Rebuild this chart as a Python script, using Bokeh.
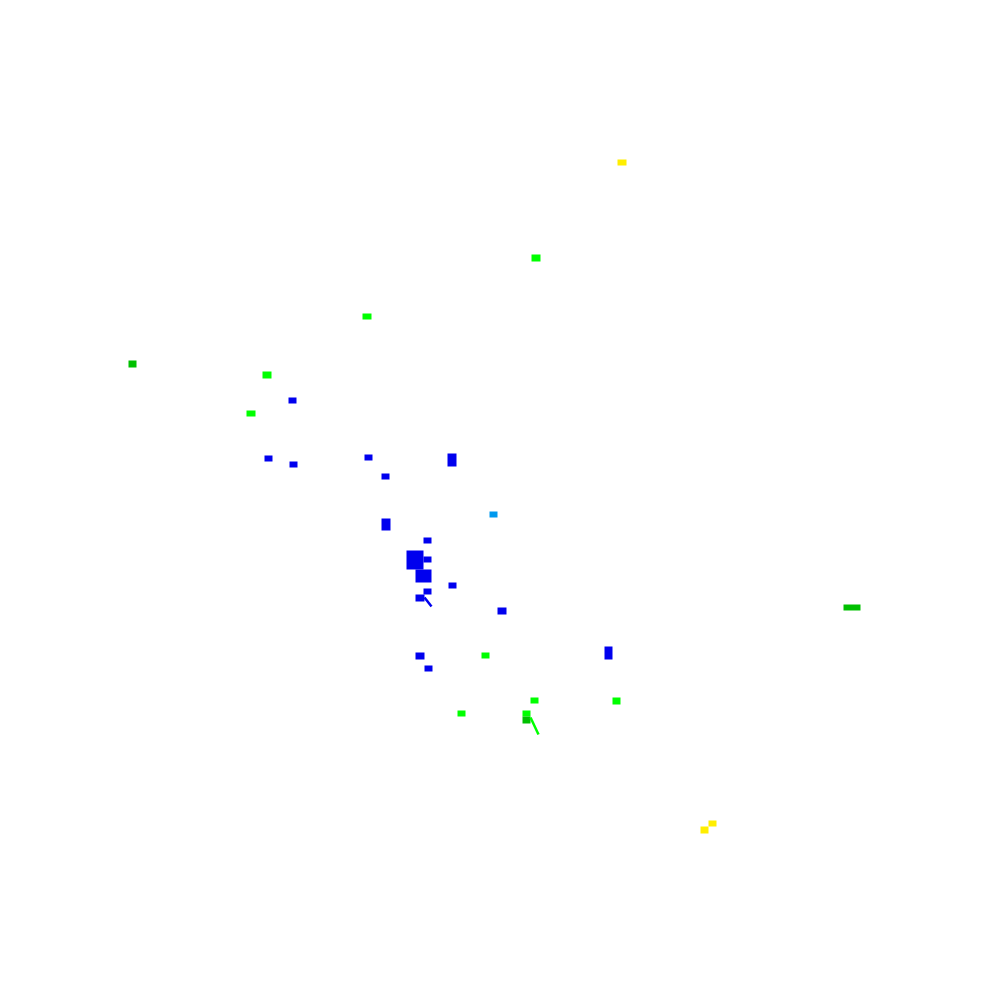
from bokeh.plotting import figure
from bokeh.models import Range1d, ColumnDataSource
from bokeh.embed import file_html
from bokeh.resources import INLINE

# Cell extents (left, right, top, bottom) in chart units, plus category
cell_left   = [288, 264, 289, 364, 447, 381, 381, 423, 406, 423, 415, 448, 423, 415, 497, 415, 424, 604,
               489,
               362, 262, 246, 531, 481, 530, 612, 457, 522,
               128, 843, 522,
               617, 708, 700]
cell_right  = [296, 272, 297, 372, 456, 389, 390, 431, 423, 431, 431, 456, 431, 424, 506, 424, 432, 612,
               497,
               371, 271, 255, 540, 489, 538, 620, 465, 530,
               136, 860, 530,
               626, 716, 708]
cell_top    = [397, 455, 461, 454, 453, 473, 518, 537, 550, 556, 569, 582, 588, 594, 607, 652, 665, 646,
               511,
               313, 371, 410, 254, 652, 697, 697, 710, 710,
               360, 604, 716,
               159, 820, 826]
cell_bottom = [403, 461, 467, 460, 466, 479, 530, 543, 569, 562, 582, 588, 594, 601, 614, 659, 671, 659,
               517,
               319, 378, 416, 261, 658, 703, 704, 716, 716,
               367, 610, 723,
               165, 826, 833]
cell_class  = ["blue"] * 18 + ["lightblue"] + ["green"] * 9 + ["darkgreen"] * 3 + ["yellow"] * 3

palette = {"blue": "#0000ee", "lightblue": "#0099ee", "green": "#00ff00",
           "darkgreen": "#00c000", "yellow": "#ffee00"}

# Thin diagonal tails
tail_x0 = [424, 530]
tail_y0 = [597, 717]
tail_x1 = [431, 538]
tail_y1 = [606, 734]
tail_class = ["blue", "green"]

src = ColumnDataSource(dict(left=cell_left, right=cell_right, top=cell_top, bottom=cell_bottom,
                            color=[palette[c] for c in cell_class]))
tsrc = ColumnDataSource(dict(x0=tail_x0, y0=tail_y0, x1=tail_x1, y1=tail_y1,
                             color=[palette[c] for c in tail_class]))

p = figure(width=984, height=984, output_backend="svg", toolbar_location=None,
           x_range=Range1d(0, 984), y_range=Range1d(984, 0), min_border=0)
p.axis.visible = False
p.grid.visible = False
p.outline_line_color = None
p.background_fill_color = "white"

p.quad(left="left", right="right", top="top", bottom="bottom", fill_color="color",
       line_color=None, source=src)
p.segment(x0="x0", y0="y0", x1="x1", y1="y1", line_color="color", line_width=2.5, source=tsrc)

open("out.html", "w").write(file_html(p, INLINE))
